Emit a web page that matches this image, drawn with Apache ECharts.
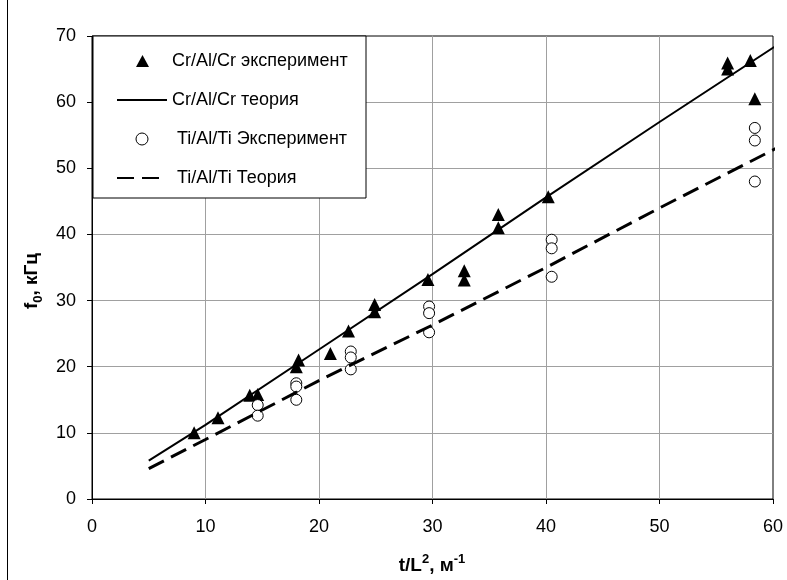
<!DOCTYPE html>
<html><head><meta charset="utf-8">
<script src="https://cdn.jsdelivr.net/npm/echarts@6/dist/echarts.min.js"></script>
<style>html,body{margin:0;padding:0;background:#fff}#c{width:787px;height:580px}</style>
</head><body><div id="c"></div>
<script>
const xTicks = [0, 10, 20, 30, 40, 50, 60];
const yTicks = [0, 10, 20, 30, 40, 50, 60, 70];

const seriesNames = ['Cr/Al/Cr эксперимент', 'Cr/Al/Cr теория', ' Ti/Al/Ti Эксперимент', ' Ti/Al/Ti Теория'];

const crExpX = [9.0, 11.1, 13.9, 14.6, 18.0, 18.2, 21.0, 22.6, 24.9, 24.9, 29.6, 32.8, 32.8, 35.8, 35.8, 40.2, 56.0, 56.0, 58.0, 58.4];
const crExpY = [10.0, 12.3, 15.7, 15.8, 20.0, 21.0, 22.0, 25.4, 28.3, 29.4, 33.2, 33.1, 34.5, 41.0, 43.0, 45.7, 65.0, 65.9, 66.3, 60.5];

const crThX = [5, 10, 20, 30, 40, 50, 60.7];
const crThY = [5.8, 11.2, 22.6, 34.0, 45.6, 57.0, 69.0];

const tiExpX = [14.6, 14.6, 18.0, 18.0, 18.0, 22.8, 22.8, 22.8, 29.7, 29.7, 29.7, 40.5, 40.5, 40.5, 58.4, 58.4, 58.4];
const tiExpY = [14.2, 12.6, 17.5, 17.0, 15.0, 22.3, 21.4, 19.6, 29.1, 28.1, 25.2, 39.2, 37.9, 33.6, 56.1, 54.2, 48.0];

const tiThX = [5, 10, 20, 30, 40, 50, 60.6];
const tiThY = [4.6, 9.0, 17.9, 26.3, 35.0, 44.0, 53.3];

const zip = (xs, ys) => xs.map((x, i) => [x, ys[i]]);
const FONT = '"Liberation Sans", Arial, sans-serif';
const hiddenSym = {color: 'rgba(0,0,0,0)', borderColor: 'rgba(0,0,0,0)', borderWidth: 0, opacity: 0};

const chart = echarts.init(document.getElementById('c'), null, {renderer: 'canvas'});
chart.setOption({
  animation: false,
  backgroundColor: '#fff',
  grid: {left: 92, right: 14, top: 36, bottom: 81, show: true, borderColor: '#000', borderWidth: 1, backgroundColor: 'transparent'},
  xAxis: {
    type: 'value', min: xTicks[0], max: xTicks[xTicks.length - 1], interval: xTicks[1] - xTicks[0],
    axisLine: {show: true, lineStyle: {color: '#000', width: 1}},
    axisTick: {show: true, inside: false, length: 5, lineStyle: {color: '#000'}},
    axisLabel: {color: '#000', fontSize: 18, fontFamily: FONT, margin: 19},
    splitLine: {show: true, showMinLine: false, showMaxLine: false, lineStyle: {color: '#a0a0a0', width: 1}}
  },
  yAxis: {
    type: 'value', min: yTicks[0], max: yTicks[yTicks.length - 1], interval: yTicks[1] - yTicks[0],
    axisLine: {show: true, lineStyle: {color: '#000', width: 1}},
    axisTick: {show: true, inside: false, length: 5, lineStyle: {color: '#000'}},
    axisLabel: {color: '#000', fontSize: 18, fontFamily: FONT, margin: 16},
    splitLine: {show: true, showMinLine: false, showMaxLine: false, lineStyle: {color: '#a0a0a0', width: 1}}
  },
  legend: {
    orient: 'vertical', left: 116, top: 51, padding: 0,
    itemWidth: 50, itemHeight: 12, itemGap: 19,
    selectedMode: false, z: 10,
    textStyle: {color: '#000', fontSize: 18, fontFamily: FONT, lineHeight: 20},
    data: [
      {name: seriesNames[0], icon: 'path://M0,0M50,12M19,12L25.5,0L32,12Z', itemStyle: {color: '#000', borderWidth: 0, opacity: 1}},
      {name: seriesNames[1], itemStyle: hiddenSym},
      {name: seriesNames[2], itemStyle: {color: '#fff', borderColor: '#000', borderWidth: 1, opacity: 1}},
      {name: seriesNames[3], itemStyle: hiddenSym}
    ]
  },
  graphic: [
    {type: 'rect', z: 5, shape: {x: 93, y: 36, width: 273, height: 162}, style: {fill: '#fff', stroke: '#000', lineWidth: 1}},
    {type: 'line', z: 5, shape: {x1: 7.5, y1: 0, x2: 7.5, y2: 580}, style: {stroke: '#000', lineWidth: 1}},
    {type: 'text', z: 5, x: 32, y: 281, rotation: Math.PI / 2,
      style: {text: '{b|f}{s|0}{b|, кГц}', align: 'center', verticalAlign: 'middle',
        rich: {
          b: {fontSize: 19, fontWeight: 'bold', fontFamily: FONT, lineHeight: 26, fill: '#000', color: '#000'},
          s: {fontSize: 13, fontWeight: 'bold', fontFamily: FONT, lineHeight: 13, verticalAlign: 'bottom', fill: '#000', color: '#000'}
        }}},
    {type: 'text', z: 5, x: 432, y: 566,
      style: {text: '{b|t/L}{p|2}{b|, м}{p|-1}', align: 'center', verticalAlign: 'middle',
        rich: {
          b: {fontSize: 19, fontWeight: 'bold', fontFamily: FONT, lineHeight: 26, fill: '#000', color: '#000'},
          p: {fontSize: 13, fontWeight: 'bold', fontFamily: FONT, lineHeight: 13, verticalAlign: 'top', fill: '#000', color: '#000'}
        }}}
  ],
  series: [
    {name: seriesNames[0], type: 'scatter', data: zip(crExpX, crExpY), symbol: 'triangle', symbolSize: 13,
      itemStyle: {color: '#000', opacity: 1}},
    {name: seriesNames[1], type: 'line', data: zip(crThX, crThY), symbol: 'none', clip: false,
      lineStyle: {color: '#000', width: 2}, itemStyle: {color: '#000'}},
    {name: seriesNames[2], type: 'scatter', data: zip(tiExpX, tiExpY), symbol: 'circle', symbolSize: 11,
      itemStyle: {color: '#fff', borderColor: '#000', borderWidth: 1, opacity: 1}},
    {name: seriesNames[3], type: 'line', data: zip(tiThX, tiThY), symbol: 'none', clip: false,
      lineStyle: {color: '#000', width: 3, type: [17, 8]}, itemStyle: {color: '#000'}}
  ]
});
</script></body></html>
